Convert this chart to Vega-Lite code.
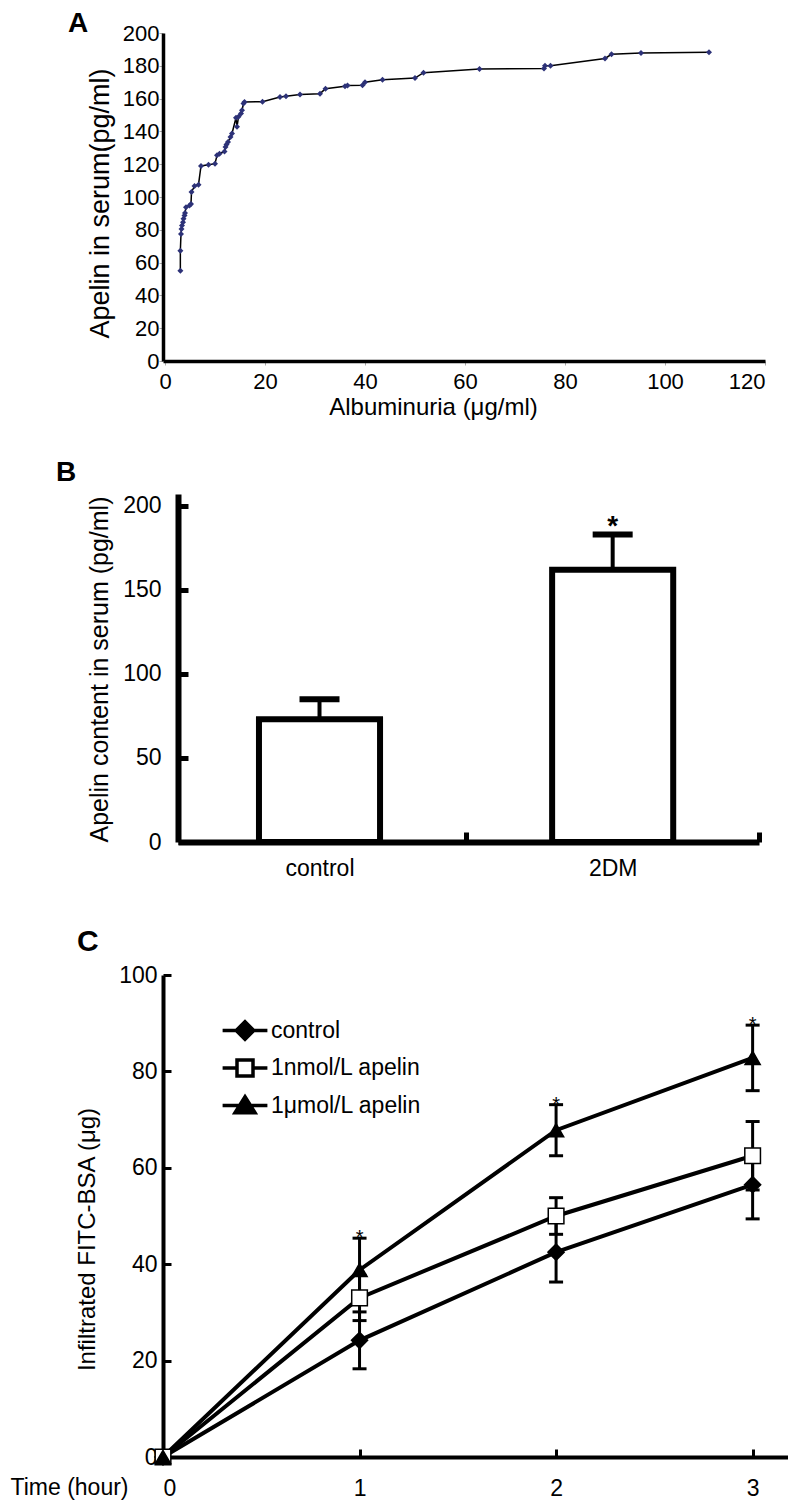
{
  "$schema": "https://vega.github.io/schema/vega-lite/v6.json",
  "background": "white",
  "padding": {"left": 10, "top": 10, "right": 0, "bottom": 0},
  "bounds": "flush",
  "spacing": 133,
  "config": {
    "view": {"stroke": null},
    "font": "Liberation Sans",
    "axis": {"grid": false, "labelColor": "black", "titleColor": "black", "domainColor": "black", "tickColor": "black", "labelFont": "Liberation Sans", "titleFont": "Liberation Sans", "titleFontWeight": "normal"},
    "title": {"color": "black", "font": "Liberation Sans"}
  },
  "vconcat": [
    {
      "width": 602,
      "height": 328,
      "title": {"text": "A", "anchor": "start", "dx": -95, "offset": -16, "fontSize": 28, "fontWeight": "bold", "frame": "group"},
      "data": {"values": [
        {"alb": 3.07, "apelin": 55}, {"alb": 3.07, "apelin": 67.3}, {"alb": 3.2, "apelin": 77.5}, {"alb": 3.3, "apelin": 80.5},
        {"alb": 3.4, "apelin": 82.6}, {"alb": 3.6, "apelin": 84.6}, {"alb": 3.7, "apelin": 86.7}, {"alb": 3.9, "apelin": 88.7},
        {"alb": 4.0, "apelin": 90.3}, {"alb": 4.2, "apelin": 93.8}, {"alb": 4.9, "apelin": 94.8}, {"alb": 5.2, "apelin": 95.8},
        {"alb": 5.3, "apelin": 103}, {"alb": 5.9, "apelin": 106.7}, {"alb": 6.7, "apelin": 107.5}, {"alb": 7.2, "apelin": 118.9},
        {"alb": 8.7, "apelin": 119.7}, {"alb": 10, "apelin": 120.3}, {"alb": 10.4, "apelin": 125.4}, {"alb": 10.9, "apelin": 126.4},
        {"alb": 11.9, "apelin": 127.8}, {"alb": 12.1, "apelin": 130.5}, {"alb": 12.3, "apelin": 132}, {"alb": 12.6, "apelin": 133.6},
        {"alb": 13.1, "apelin": 136.6}, {"alb": 13.4, "apelin": 138.7}, {"alb": 14.4, "apelin": 142.8}, {"alb": 14.2, "apelin": 148.3},
        {"alb": 14.7, "apelin": 148.9}, {"alb": 15.2, "apelin": 150.9}, {"alb": 15.4, "apelin": 152.9}, {"alb": 15.7, "apelin": 157},
        {"alb": 15.9, "apelin": 158}, {"alb": 19.5, "apelin": 158.1}, {"alb": 23, "apelin": 161}, {"alb": 24.2, "apelin": 161.5},
        {"alb": 27, "apelin": 162.5}, {"alb": 31, "apelin": 163}, {"alb": 32.1, "apelin": 166}, {"alb": 36, "apelin": 167.5},
        {"alb": 36.5, "apelin": 168}, {"alb": 39.5, "apelin": 168.2}, {"alb": 40, "apelin": 170}, {"alb": 43.5, "apelin": 171.5},
        {"alb": 50, "apelin": 172.5}, {"alb": 51.7, "apelin": 175.8}, {"alb": 62.9, "apelin": 178}, {"alb": 75.8, "apelin": 178.3},
        {"alb": 76, "apelin": 180}, {"alb": 77.1, "apelin": 180.1}, {"alb": 88, "apelin": 184.5}, {"alb": 89.3, "apelin": 187},
        {"alb": 95.2, "apelin": 187.8}, {"alb": 108.8, "apelin": 188.2}
      ]},
      "encoding": {
        "x": {"field": "alb", "type": "quantitative", "scale": {"domain": [-0.4, 120], "nice": false, "zero": false},
          "axis": {"values": [0, 20, 40, 60, 80, 100, 120], "title": "Albuminuria (μg/ml)", "labelFontSize": 22, "titleFontSize": 24,
            "domainWidth": 3.5, "tickColor": "#aaaaaa", "tickSize": 4, "labelPadding": 6, "titleX": 270, "titleY": 46, "titleBaseline": "middle", "titleAlign": "center"}},
        "y": {"field": "apelin", "type": "quantitative", "scale": {"domain": [0, 200], "nice": false},
          "axis": {"values": [0, 20, 40, 60, 80, 100, 120, 140, 160, 180, 200], "title": "Apelin in serum(pg/ml)", "labelFontSize": 22, "titleFontSize": 27,
            "domainWidth": 3.5, "tickColor": "#aaaaaa", "tickSize": 4, "labelPadding": 0, "titleX": -63, "titleY": 170, "titleBaseline": "middle", "titleAlign": "center", "titleAngle": -90}}
      },
      "layer": [
        {"mark": {"type": "line", "color": "black", "strokeWidth": 1.5}, "encoding": {"order": [{"field": "apelin", "type": "quantitative"}, {"field": "alb", "type": "quantitative"}]}},
        {"mark": {"type": "point", "shape": "diamond", "filled": true, "color": "#2d3278", "size": 36, "opacity": 1}}
      ]
    },
    {
      "width": 596,
      "height": 348,
      "title": {"text": "B", "anchor": "start", "dx": -107, "offset": 7, "fontSize": 28, "fontWeight": "bold", "frame": "group"},
      "data": {"values": [
        {"group": "control", "mean": 73, "hi": 85, "sig": ""},
        {"group": "2DM", "mean": 162, "hi": 183, "sig": "*"}
      ]},
      "encoding": {
        "x": {"field": "group", "type": "nominal", "scale": {"domain": ["control", "2DM"], "paddingInner": 0.587, "paddingOuter": 0.31, "align": 0.528},
          "axis": {"title": null, "labelAngle": 0, "domainWidth": 6, "domainDash": [0, 15, 2000], "tickWidth": 5, "tickSize": -10, "tickOffset": 146.5, "labelOffset": -146.5, "labelFontSize": 23, "labelPadding": 25}},
        "y": {"field": "mean", "type": "quantitative", "scale": {"domain": [0, 207.1], "nice": false},
          "axis": {"values": [0, 50, 100, 150, 200], "title": "Apelin content in serum (pg/ml)", "offset": -15, "domainWidth": 6, "tickWidth": 5, "tickSize": -10,
            "labelFontSize": 23, "labelPadding": 27, "titleFontSize": 25, "titleX": -79, "titleY": 175, "titleBaseline": "middle", "titleAlign": "center", "titleAngle": -90}}
      },
      "layer": [
        {"mark": {"type": "rule", "color": "black", "strokeWidth": 4},
          "encoding": {"y2": {"field": "hi"}}},
        {"mark": {"type": "tick", "orient": "horizontal", "color": "black", "thickness": 6, "size": 40, "opacity": 1},
          "encoding": {"y": {"field": "hi", "type": "quantitative", "title": "Apelin content in serum (pg/ml)"}}},
        {"mark": {"type": "bar", "fill": "white", "stroke": "black", "strokeWidth": 6}},
        {"transform": [{"filter": "datum.sig != ''"}],
          "mark": {"type": "text", "fontSize": 28, "fontWeight": "bold", "baseline": "alphabetic", "dy": 1, "color": "black"},
          "encoding": {"y": {"field": "hi", "type": "quantitative", "title": "Apelin content in serum (pg/ml)"}, "text": {"field": "sig"}}}
      ]
    },
    {
      "width": 625,
      "height": 482,
      "title": {"text": "C", "anchor": "start", "dx": -86, "offset": 7, "fontSize": 30, "fontWeight": "bold", "frame": "group"},
      "data": {"values": [
        {"t": 0, "series": "control", "mean": 0, "lo": 0, "hi": 0, "sig": ""},
        {"t": 0, "series": "1nmol/L apelin", "mean": 0, "lo": 0, "hi": 0, "sig": ""},
        {"t": 0, "series": "1μmol/L apelin", "mean": 0, "lo": 0, "hi": 0, "sig": ""},
        {"t": 1, "series": "control", "mean": 24.2, "lo": 18.3, "hi": 30.1, "sig": ""},
        {"t": 1, "series": "1nmol/L apelin", "mean": 33, "lo": 28.3, "hi": 37.7, "sig": ""},
        {"t": 1, "series": "1μmol/L apelin", "mean": 38.8, "lo": 32.2, "hi": 45.4, "sig": "*"},
        {"t": 2, "series": "control", "mean": 42.5, "lo": 36.3, "hi": 48.7, "sig": ""},
        {"t": 2, "series": "1nmol/L apelin", "mean": 50, "lo": 46.2, "hi": 53.8, "sig": ""},
        {"t": 2, "series": "1μmol/L apelin", "mean": 67.8, "lo": 62.5, "hi": 73.1, "sig": "*"},
        {"t": 3, "series": "control", "mean": 56.5, "lo": 49.4, "hi": 63.6, "sig": ""},
        {"t": 3, "series": "1nmol/L apelin", "mean": 62.5, "lo": 55.4, "hi": 69.6, "sig": ""},
        {"t": 3, "series": "1μmol/L apelin", "mean": 82.8, "lo": 76, "hi": 89.6, "sig": "*"}
      ]},
      "encoding": {
        "x": {"field": "t", "type": "quantitative", "scale": {"domain": [0, 3.18], "nice": false, "zero": false},
          "axis": {"values": [0, 1, 2, 3], "format": "d", "title": "Time (hour)", "titleX": -153, "titleY": 30, "titleAlign": "left", "titleBaseline": "middle", "titleFontSize": 23,
            "labelFontSize": 23, "domainWidth": 4, "tickWidth": 3, "tickSize": -8, "labelPadding": 28}},
        "y": {"field": "mean", "type": "quantitative", "scale": {"domain": [0, 100], "nice": false},
          "axis": {"values": [0, 20, 40, 60, 80, 100], "title": "Infiltrated FITC-BSA (μg)", "domainWidth": 4, "tickWidth": 3, "tickSize": -8,
            "labelFontSize": 23, "labelPadding": 14, "titleFontSize": 24, "titleX": -76, "titleY": 264, "titleBaseline": "middle", "titleAlign": "center", "titleAngle": -90}}
      },
      "layer": [
        {"mark": {"type": "rule", "color": "black", "strokeWidth": 3},
          "encoding": {"y": {"field": "lo", "type": "quantitative", "title": "Infiltrated FITC-BSA (μg)"}, "y2": {"field": "hi"}}},
        {"mark": {"type": "tick", "orient": "horizontal", "color": "black", "thickness": 3, "size": 14, "opacity": 1},
          "encoding": {"y": {"field": "lo", "type": "quantitative", "title": "Infiltrated FITC-BSA (μg)"}}},
        {"mark": {"type": "tick", "orient": "horizontal", "color": "black", "thickness": 3, "size": 14, "opacity": 1},
          "encoding": {"y": {"field": "hi", "type": "quantitative", "title": "Infiltrated FITC-BSA (μg)"}}},
        {"mark": {"type": "line", "color": "black", "strokeWidth": 4},
          "encoding": {"detail": {"field": "series"}}},
        {"mark": {"type": "point", "filled": true, "stroke": "black", "strokeWidth": 1.5, "opacity": 1},
          "encoding": {
            "shape": {"field": "series", "type": "nominal", "scale": {"domain": ["control", "1nmol/L apelin", "1μmol/L apelin"], "range": ["diamond", "square", "triangle-up"]}, "legend": null},
            "fill": {"field": "series", "type": "nominal", "scale": {"domain": ["control", "1nmol/L apelin", "1μmol/L apelin"], "range": ["black", "white", "black"]}, "legend": null},
            "size": {"field": "series", "type": "nominal", "scale": {"domain": ["control", "1nmol/L apelin", "1μmol/L apelin"], "range": [260, 230, 380]}, "legend": null}
          }},
        {"transform": [{"filter": "datum.sig != ''"}],
          "mark": {"type": "text", "fontSize": 20, "baseline": "alphabetic", "dy": 6, "color": "black"},
          "encoding": {"y": {"field": "hi", "type": "quantitative", "title": "Infiltrated FITC-BSA (μg)"}, "text": {"field": "sig"}}},
        {"mark": {"type": "point", "filled": true, "opacity": 0, "size": 256},
          "encoding": {
            "shape": {"field": "series", "type": "nominal",
              "scale": {"domain": ["control", "1nmol/L apelin", "1μmol/L apelin"], "range": ["M-2.8,0H2.8M0,-1.1L1.1,0L0,1.1L-1.1,0Z", "M-2.8,0H-1M1,0H2.8M-1,-1H1V1H-1Z", "M-2.8,0H2.8M0,-1.1L1.25,0.9H-1.25Z"]},
              "legend": {"title": null, "orient": "none", "legendX": 70.5, "legendY": 44, "symbolSize": 256, "labelFontSize": 23, "labelOffset": 14.5, "rowPadding": 5.5, "padding": 0, "labelColor": "black", "labelFont": "Liberation Sans",
                "encode": {"symbols": {"update": {"opacity": {"value": 1}, "stroke": {"value": "black"}, "strokeWidth": {"value": 3.5}}}}}},
            "fill": {"field": "series", "type": "nominal",
              "scale": {"domain": ["control", "1nmol/L apelin", "1μmol/L apelin"], "range": ["black", "white", "black"]},
              "legend": {"title": null, "orient": "none", "legendX": 70.5, "legendY": 44, "symbolSize": 256, "labelFontSize": 23, "labelOffset": 14.5, "rowPadding": 5.5, "padding": 0, "labelColor": "black", "labelFont": "Liberation Sans",
                "encode": {"symbols": {"update": {"opacity": {"value": 1}, "stroke": {"value": "black"}, "strokeWidth": {"value": 3.5}}}}}}
          }}
      ],
      "resolve": {"scale": {"shape": "independent", "fill": "independent", "size": "independent"}}
    }
  ]
}
